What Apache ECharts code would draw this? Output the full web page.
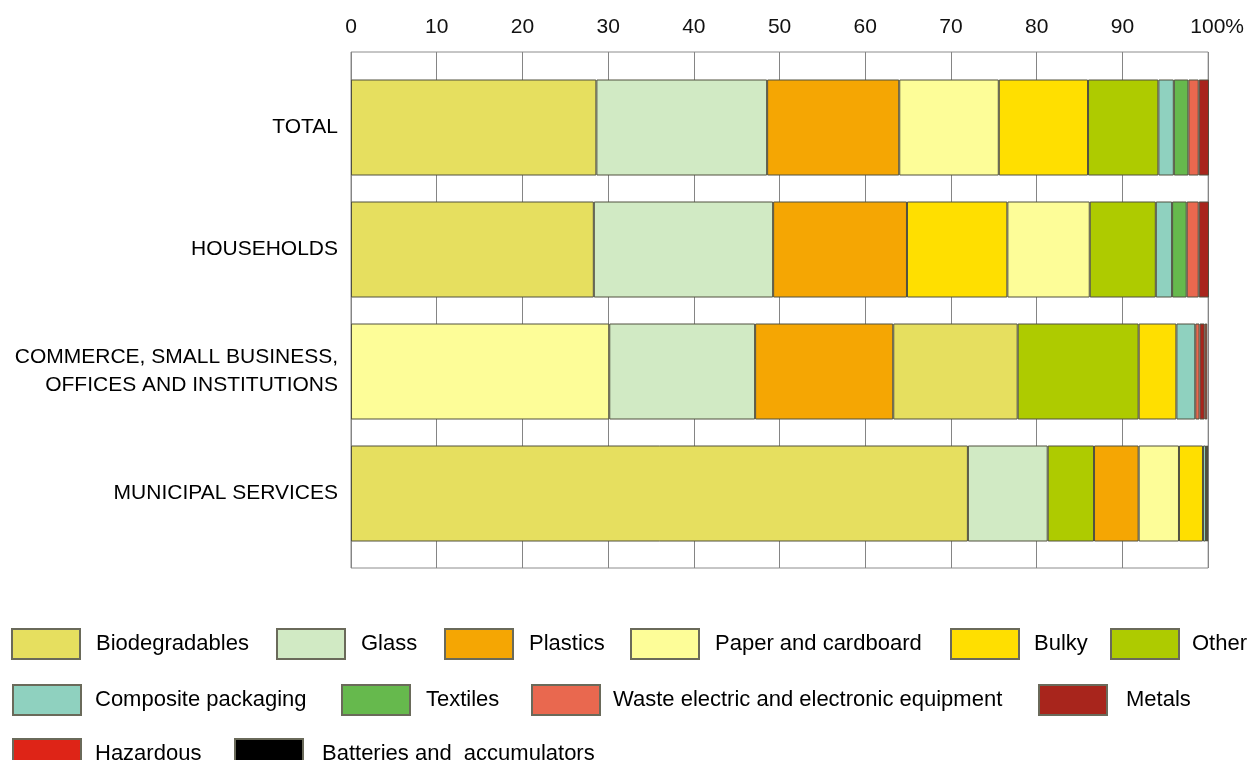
<!DOCTYPE html>
<html>
<head>
<meta charset="utf-8">
<script src="https://cdn.jsdelivr.net/npm/echarts@6/dist/echarts.min.js"></script>
<style>
  html, body { margin: 0; padding: 0; background: #fff; }
  #chart { width: 1247px; height: 760px; }
</style>
</head>
<body>
<div id="chart"></div>
<script>
// rows of the chart, top to bottom
var rows = ['TOTAL', 'HOUSEHOLDS', 'COMMERCE, SMALL BUSINESS,\nOFFICES AND INSTITUTIONS', 'MUNICIPAL SERVICES'];
var xTicks = [0, 10, 20, 30, 40, 50, 60, 70, 80, 90, 100];

var materials = ['Biodegradables', 'Glass', 'Plastics', 'Paper and cardboard', 'Bulky', 'Other',
  'Composite packaging', 'Textiles', 'Waste electric and electronic equipment', 'Metals',
  'Hazardous', 'Batteries and  accumulators'];

// share in % per row (TOTAL, HOUSEHOLDS, COMMERCE, MUNICIPAL)
var biodegradables = [28.6, 28.3, 14.5, 71.9];
var glass          = [19.9, 20.9, 17.0, 9.3];
var plastics       = [15.4, 15.6, 16.1, 5.2];
var paper          = [11.6, 9.6, 30.1, 4.7];
var bulky          = [10.4, 11.7, 4.4, 2.8];
var other          = [8.2, 7.7, 14.1, 5.4];
var composite      = [1.8, 1.9, 2.2, 0.35];
var textiles       = [1.7, 1.7, 0, 0];
var weee           = [1.2, 1.4, 0.5, 0];
var metals         = [1.2, 1.2, 0.6, 0];
var hazardous      = [0, 0, 0.3, 0];
var batteries      = [0, 0, 0, 0.25];

// order of the segments in each bar (index into materials)
var stackOrder = [
  [0, 1, 2, 3, 4, 5, 6, 7, 8, 9],
  [0, 1, 2, 4, 3, 5, 6, 7, 8, 9],
  [3, 1, 2, 0, 5, 4, 6, 8, 9, 10],
  [0, 1, 5, 2, 3, 4, 6, 11]
];

var values = [biodegradables, glass, plastics, paper, bulky, other, composite, textiles, weee, metals, hazardous, batteries];
var colors = ['#e6df5f', '#d1eac4', '#f5a603', '#fdfd98', '#ffdf00', '#aecb00',
  '#8fd1bf', '#66b94d', '#e9684f', '#a8251c', '#de2417', '#000000'];

var FONT = 'Liberation Sans';

// series per position in the stack, colour taken from the material
var series = [];
for (let s = 0; s < 10; s++) {
  series.push({
    type: 'bar',
    name: 'slot' + s,
    stack: 'all',
    barWidth: 96,
    xAxisIndex: 0,
    yAxisIndex: 0,
    z: 3,
    itemStyle: { borderColor: '#50503f', borderWidth: 1 },
    data: rows.map(function (r, ri) {
      let m = stackOrder[ri][s];
      if (m === undefined) return '-';
      return { value: values[m][ri], itemStyle: { color: colors[m] } };
    })
  });
}
// empty series only for the legend (same stack so they take no band space)
materials.forEach(function (name, i) {
  series.push({
    type: 'bar', name: name, data: [], stack: 'all', barWidth: 96, xAxisIndex: 0, yAxisIndex: 0,
    itemStyle: { color: colors[i], borderColor: '#6a6a5a', borderWidth: 1 }
  });
});

// legend positions: [icon left, icon top, text gap, text vertical shift]
var legendPos = [
  [11, 628, 16, -1], [276, 628, 16, -1], [444, 628, 16, 3], [630, 628, 16, -2], [950, 628, 15, -5], [1110, 628, 13, -5],
  [12, 684, 14, 0], [341, 684, 16, -2], [531, 684, 13, -2], [1038, 684, 19, -7],
  [12, 738, 14, -3], [234, 738, 19, 3]
];
var legends = materials.map(function (name, i) {
  let p = legendPos[i];
  let dy = p[3];
  return {
    data: [name],
    left: p[0], top: p[1],
    padding: 0,
    itemWidth: 68, itemHeight: 30,
    icon: 'rect',
    selectedMode: false,
    textStyle: {
      fontFamily: FONT, fontSize: 22, color: '#000',
      padding: [dy > 0 ? dy * 2 : 0, 0, dy < 0 ? -dy * 2 : 0, p[2] - 5]
    }
  };
});

var chart = echarts.init(document.getElementById('chart'));
chart.setOption({
  animation: false,
  backgroundColor: '#fff',
  legend: legends,
  grid: [
    { left: 351, width: 858, top: 66.5, height: 488 },
    { left: 351, width: 858, top: 52, height: 516, show: true, borderColor: '#8c8c8c', borderWidth: 1, backgroundColor: '#fff' }
  ],
  xAxis: [
    { gridIndex: 0, type: 'value', min: 0, max: 100, show: false },
    {
      gridIndex: 1, type: 'value', position: 'top', min: 0, max: 100, interval: 10,
      axisLine: { show: false }, axisTick: { show: false },
      splitLine: { show: true, lineStyle: { color: '#858585', width: 1 } },
      axisLabel: {
        margin: 14, fontFamily: FONT, fontSize: 21, color: '#111',
        formatter: function (v) { return v === 100 ? '{p|100%}' : String(v); },
        rich: { p: { fontFamily: FONT, fontSize: 21, color: '#111', padding: [0, 0, 0, 18] } }
      }
    }
  ],
  yAxis: [
    {
      gridIndex: 0, type: 'category', data: rows, inverse: true,
      axisLine: { show: false }, axisTick: { show: false },
      axisLabel: { margin: 13, fontFamily: FONT, fontSize: 21, color: '#000', lineHeight: 28, align: 'right' }
    },
    { gridIndex: 1, type: 'value', show: false, splitLine: { show: false } }
  ],
  series: series
});
</script>
</body>
</html>
